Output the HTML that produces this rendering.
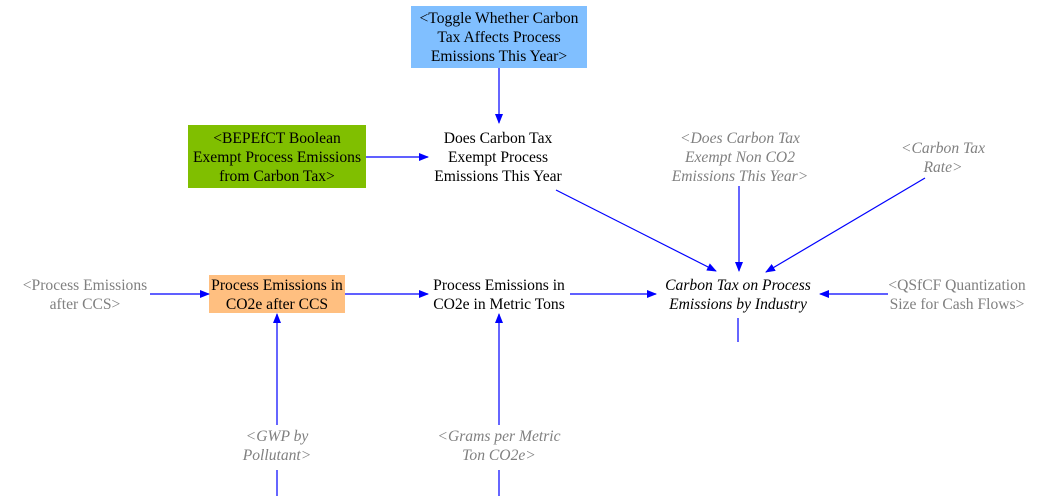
<!DOCTYPE html>
<html><head><meta charset="utf-8"><style>
html,body{margin:0;padding:0;background:#fff;}
svg{display:block;}
text{font-family:"Liberation Serif",serif;font-size:15.6px;text-anchor:middle;}
.g{fill:#808080;font-style:italic;}
.gn{fill:#808080;}
.i{font-style:italic;}
</style></head><body>
<svg width="1044" height="496" viewBox="0 0 1044 496" xmlns="http://www.w3.org/2000/svg">
<defs><marker id="a" markerWidth="10" markerHeight="8" refX="9" refY="4" orient="auto" markerUnits="userSpaceOnUse"><path d="M0,0 L10,4 L0,8 z" fill="#0000ff"/></marker></defs>
<rect x="411" y="6" width="176" height="62" fill="#80bfff"/>
<rect x="188" y="125" width="178" height="63" fill="#80bf00"/>
<rect x="209" y="275" width="136" height="38" fill="#ffbf80"/>
<g stroke="#0000ff" stroke-width="1.2" fill="none">
<line x1="499" y1="68" x2="499" y2="123" marker-end="url(#a)"/>
<line x1="366" y1="157" x2="428" y2="157" marker-end="url(#a)"/>
<line x1="556" y1="190" x2="716" y2="271" marker-end="url(#a)"/>
<line x1="739" y1="186" x2="739" y2="271" marker-end="url(#a)"/>
<line x1="925" y1="178" x2="766" y2="272" marker-end="url(#a)"/>
<line x1="888" y1="294" x2="820" y2="294" marker-end="url(#a)"/>
<line x1="150" y1="294" x2="209" y2="294" marker-end="url(#a)"/>
<line x1="345" y1="294" x2="428" y2="294" marker-end="url(#a)"/>
<line x1="570" y1="294" x2="656" y2="294" marker-end="url(#a)"/>
<line x1="277" y1="425" x2="277" y2="314" marker-end="url(#a)"/>
<line x1="499" y1="425" x2="499" y2="314" marker-end="url(#a)"/>
<line x1="738" y1="318" x2="738" y2="342"/>
<line x1="277" y1="470" x2="277" y2="496"/>
<line x1="499" y1="470" x2="499" y2="496"/>
</g>
<text x="499" y="23">&lt;Toggle Whether Carbon</text>
<text x="499" y="42">Tax Affects Process</text>
<text x="499" y="61">Emissions This Year&gt;</text>
<text x="277" y="143">&lt;BEPEfCT Boolean</text>
<text x="277" y="162">Exempt Process Emissions</text>
<text x="277" y="181">from Carbon Tax&gt;</text>
<text x="498" y="143">Does Carbon Tax</text>
<text x="498" y="162">Exempt Process</text>
<text x="498" y="181">Emissions This Year</text>
<text class="g" x="740" y="143">&lt;Does Carbon Tax</text>
<text class="g" x="740" y="162">Exempt Non CO2</text>
<text class="g" x="740" y="181">Emissions This Year&gt;</text>
<text class="g" x="943" y="153">&lt;Carbon Tax</text>
<text class="g" x="943" y="172">Rate&gt;</text>
<text class="i" x="738" y="290">Carbon Tax on Process</text>
<text class="i" x="738" y="309">Emissions by Industry</text>
<text class="gn" x="957" y="290">&lt;QSfCF Quantization</text>
<text class="gn" x="957" y="309">Size for Cash Flows&gt;</text>
<text class="gn" x="85" y="290">&lt;Process Emissions</text>
<text class="gn" x="85" y="309">after CCS&gt;</text>
<text x="277" y="290">Process Emissions in</text>
<text x="277" y="309">CO2e after CCS</text>
<text x="499" y="290">Process Emissions in</text>
<text x="499" y="309">CO2e in Metric Tons</text>
<text class="g" x="277" y="441">&lt;GWP by</text>
<text class="g" x="277" y="460">Pollutant&gt;</text>
<text class="g" x="499" y="441">&lt;Grams per Metric</text>
<text class="g" x="499" y="460">Ton CO2e&gt;</text>
</svg>
</body></html>
